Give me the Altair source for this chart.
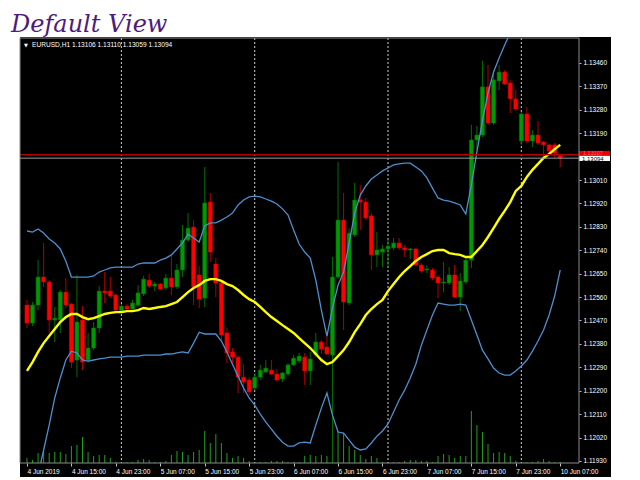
import json
import altair as alt
import pandas as pd

# ---------------- data ----------------
tick_idx = [0, 8, 16, 24, 32, 40, 48, 56, 64, 72, 80, 88, 96]
tick_labels = ["4 Jun 2019", "4 Jun 15:00", "4 Jun 23:00", "5 Jun 07:00", "5 Jun 15:00",
               "5 Jun 23:00", "6 Jun 07:00", "6 Jun 15:00", "6 Jun 23:00", "7 Jun 07:00",
               "7 Jun 15:00", "7 Jun 23:00", "10 Jun 07:00"]
day_sep_idx = [17, 41, 65, 89]
price_ticks = [1.11930, 1.12020, 1.12110, 1.12200, 1.12290, 1.12380, 1.12470, 1.12560,
               1.12650, 1.12740, 1.12830, 1.12920, 1.13010, 1.13190, 1.13280, 1.13370, 1.13460]

opens = [1.12529, 1.12460, 1.12529, 1.12637, 1.12618, 1.12472, 1.12472, 1.12579, 1.12533, 1.12318,
         1.12472, 1.12318, 1.12364, 1.12441, 1.12583, 1.12583, 1.12568, 1.12506, 1.12525, 1.12514,
         1.12529, 1.12572, 1.12625, 1.12602, 1.12610, 1.12595, 1.12633, 1.12599, 1.12664, 1.12779,
         1.12829, 1.12645, 1.12556, 1.12925, 1.12687, 1.12614, 1.12422, 1.12349, 1.12329, 1.12252,
         1.12241, 1.12210, 1.12252, 1.12272, 1.12279, 1.12264, 1.12245, 1.12264, 1.12299, 1.12314,
         1.12329, 1.12276, 1.12337, 1.12387, 1.12368, 1.12337, 1.12637, 1.12856, 1.12537, 1.12799,
         1.12933, 1.12925, 1.12872, 1.12722, 1.12733, 1.12745, 1.12749, 1.12768, 1.12749, 1.12741,
         1.12745, 1.12683, 1.12664, 1.12664, 1.12637, 1.12614, 1.12614, 1.12645, 1.12560, 1.12618,
         1.12702, 1.13164, 1.13183, 1.13368, 1.13229, 1.13391, 1.13425, 1.13383, 1.13322, 1.13160,
         1.13264, 1.13160, 1.13183, 1.13156, 1.13145, 1.13145, 1.13106]
highs = [1.12549, 1.12541, 1.12702, 1.12768, 1.12625, 1.12522, 1.12587, 1.12633, 1.12537, 1.12645,
         1.12525, 1.12422, 1.12464, 1.12602, 1.12656, 1.12637, 1.12572, 1.12533, 1.12533, 1.12549,
         1.12606, 1.12641, 1.12649, 1.12618, 1.12614, 1.12649, 1.12718, 1.12687, 1.12837, 1.12883,
         1.12856, 1.12679, 1.13060, 1.12960, 1.12710, 1.12622, 1.12441, 1.12364, 1.12337, 1.12302,
         1.12252, 1.12268, 1.12299, 1.12318, 1.12318, 1.12283, 1.12272, 1.12306, 1.12337, 1.12345,
         1.12345, 1.12349, 1.12422, 1.12395, 1.12425, 1.12714, 1.13079, 1.12960, 1.12825, 1.12999,
         1.12991, 1.12941, 1.12883, 1.12810, 1.12760, 1.12783, 1.12787, 1.12787, 1.12760, 1.12749,
         1.12749, 1.12691, 1.12683, 1.12672, 1.12645, 1.12695, 1.12675, 1.12683, 1.12652, 1.12714,
         1.13222, 1.13218, 1.13468, 1.13452, 1.13433, 1.13452, 1.13433, 1.13395, 1.13356, 1.13272,
         1.13291, 1.13202, 1.13237, 1.13160, 1.13149, 1.13152, 1.13110]
lows = [1.12441, 1.12449, 1.12510, 1.12599, 1.12422, 1.12387, 1.12422, 1.12518, 1.12287, 1.12252,
        1.12279, 1.12306, 1.12356, 1.12422, 1.12537, 1.12556, 1.12502, 1.12499, 1.12506, 1.12510,
        1.12522, 1.12564, 1.12595, 1.12583, 1.12587, 1.12587, 1.12568, 1.12591, 1.12637, 1.12772,
        1.12529, 1.12518, 1.12522, 1.12695, 1.12560, 1.12395, 1.12306, 1.12306, 1.12191, 1.12191,
        1.12183, 1.12202, 1.12241, 1.12268, 1.12260, 1.12233, 1.12233, 1.12256, 1.12295, 1.12306,
        1.12222, 1.12222, 1.12329, 1.12341, 1.12337, 1.11925, 1.12629, 1.12433, 1.12529, 1.12791,
        1.12818, 1.12856, 1.12664, 1.12675, 1.12675, 1.12675, 1.12741, 1.12741, 1.12714, 1.12706,
        1.12679, 1.12652, 1.12652, 1.12625, 1.12556, 1.12579, 1.12606, 1.12556, 1.12506, 1.12610,
        1.12672, 1.13125, 1.13175, 1.13222, 1.13222, 1.13356, 1.13375, 1.13268, 1.13275, 1.13145,
        1.13152, 1.13137, 1.13145, 1.13099, 1.13114, 1.13095, 1.13059]
closes = [1.12460, 1.12529, 1.12637, 1.12618, 1.12472, 1.12479, 1.12579, 1.12529, 1.12310, 1.12464,
          1.12310, 1.12364, 1.12441, 1.12583, 1.12576, 1.12564, 1.12510, 1.12525, 1.12514, 1.12537,
          1.12576, 1.12629, 1.12602, 1.12610, 1.12591, 1.12633, 1.12599, 1.12664, 1.12779, 1.12825,
          1.12599, 1.12552, 1.12922, 1.12733, 1.12614, 1.12414, 1.12345, 1.12329, 1.12252, 1.12233,
          1.12195, 1.12252, 1.12279, 1.12287, 1.12264, 1.12241, 1.12268, 1.12299, 1.12325, 1.12333,
          1.12276, 1.12322, 1.12387, 1.12360, 1.12341, 1.12637, 1.12856, 1.12541, 1.12806, 1.12933,
          1.12925, 1.12864, 1.12722, 1.12741, 1.12745, 1.12756, 1.12768, 1.12749, 1.12741, 1.12745,
          1.12683, 1.12660, 1.12668, 1.12633, 1.12614, 1.12618, 1.12645, 1.12560, 1.12622, 1.12702,
          1.13164, 1.13183, 1.13368, 1.13229, 1.13395, 1.13425, 1.13379, 1.13322, 1.13283, 1.13264,
          1.13160, 1.13183, 1.13152, 1.13145, 1.13122, 1.13114, 1.13094]
volumes = [500, 300, 1000, 1300, 1000, 1100, 1100, 900, 1700, 1800,
           2600, 1100, 700, 800, 800, 500, 100, 100, 100, 100,
           300, 400, 300, 100, 100, 200, 800, 1200, 1100, 800,
           1100, 1300, 3200, 2000, 2900, 2000, 1000, 500, 700, 500,
           200, 100, 100, 100, 200, 200, 200, 100, 100, 100,
           700, 800, 700, 800, 700, 2000, 3200, 3000, 1700, 1300,
           800, 400, 700, 500, 100, 100, 100, 100, 200, 300,
           300, 200, 200, 100, 700, 900, 800, 500, 700, 700,
           5200, 3800, 3100, 1900, 1000, 1100, 1000, 700, 200, 100,
           100, 100, 200, 400, 200, 100, 100]
ma = [1.12276, 1.12310, 1.12349, 1.12383, 1.12410, 1.12437, 1.12464, 1.12483, 1.12495, 1.12495,
      1.12483, 1.12475, 1.12479, 1.12487, 1.12495, 1.12499, 1.12502, 1.12502, 1.12506, 1.12506,
      1.12510, 1.12518, 1.12514, 1.12518, 1.12522, 1.12525, 1.12533, 1.12541, 1.12560, 1.12579,
      1.12595, 1.12606, 1.12622, 1.12629, 1.12629, 1.12622, 1.12610, 1.12602, 1.12587, 1.12568,
      1.12552, 1.12541, 1.12522, 1.12502, 1.12483, 1.12468, 1.12452, 1.12437, 1.12422, 1.12402,
      1.12383, 1.12364, 1.12341, 1.12318, 1.12302, 1.12310, 1.12333, 1.12356, 1.12387, 1.12425,
      1.12456, 1.12491, 1.12514, 1.12533, 1.12549, 1.12583, 1.12610, 1.12637, 1.12660, 1.12679,
      1.12699, 1.12714, 1.12725, 1.12737, 1.12741, 1.12741, 1.12729, 1.12725, 1.12722, 1.12714,
      1.12714, 1.12737, 1.12760, 1.12791, 1.12825, 1.12860, 1.12891, 1.12925, 1.12968, 1.12987,
      1.13022, 1.13049, 1.13072, 1.13095, 1.13110, 1.13129, 1.13145]
bb_upper = [1.12814, 1.12810, 1.12822, 1.12806, 1.12783, 1.12768, 1.12745, 1.12698, 1.12637, 1.12637,
            1.12637, 1.12637, 1.12641, 1.12656, 1.12664, 1.12672, 1.12675, 1.12675, 1.12675, 1.12675,
            1.12687, 1.12691, 1.12691, 1.12691, 1.12702, 1.12710, 1.12722, 1.12745, 1.12768, 1.12802,
            1.12787, 1.12772, 1.12833, 1.12845, 1.12845, 1.12856, 1.12868, 1.12883, 1.12914, 1.12933,
            1.12945, 1.12948, 1.12945, 1.12937, 1.12929, 1.12918, 1.12899, 1.12875, 1.12818, 1.12764,
            1.12733, 1.12710, 1.12625, 1.12510, 1.12410, 1.12518, 1.12606, 1.12656, 1.12768, 1.12883,
            1.12952, 1.12987, 1.13014, 1.13029, 1.13045, 1.13056, 1.13068, 1.13072, 1.13075, 1.13075,
            1.13060, 1.13045, 1.13018, 1.12979, 1.12941, 1.12933, 1.12929, 1.12922, 1.12914, 1.12879,
            1.12991, 1.13118, 1.13237, 1.13345, 1.13425, 1.13479, 1.13529, 1.13575, 1.13618, 1.13656,
            1.13687, 1.13710, 1.13725, 1.13737, 1.13745, 1.13748, 1.13748]
bb_lower = [1.11683, 1.11779, 1.11876, 1.11972, 1.12068, 1.12172, 1.12249, 1.12318, 1.12352, 1.12345,
            1.12318, 1.12314, 1.12318, 1.12322, 1.12325, 1.12329, 1.12329, 1.12329, 1.12333, 1.12333,
            1.12333, 1.12337, 1.12337, 1.12337, 1.12337, 1.12341, 1.12341, 1.12345, 1.12349, 1.12345,
            1.12383, 1.12425, 1.12418, 1.12418, 1.12418, 1.12391, 1.12349, 1.12302, 1.12256, 1.12210,
            1.12172, 1.12145, 1.12110, 1.12079, 1.12052, 1.12025, 1.12002, 1.11987, 1.11987, 1.11999,
            1.12002, 1.11999, 1.12068, 1.12133, 1.12191, 1.12106, 1.12041, 1.12037, 1.12010, 1.11983,
            1.11972, 1.11976, 1.11999, 1.12025, 1.12045, 1.12072, 1.12118, 1.12164, 1.12202, 1.12249,
            1.12302, 1.12375, 1.12433, 1.12491, 1.12537, 1.12533, 1.12529, 1.12529, 1.12533, 1.12529,
            1.12472, 1.12414, 1.12356, 1.12322, 1.12287, 1.12268, 1.12260, 1.12260, 1.12276, 1.12295,
            1.12318, 1.12352, 1.12391, 1.12433, 1.12491, 1.12564, 1.12664]
ask_price = 1.13107
bid_price = 1.13094

# ---------------- chart ----------------
n = len(opens)
df = pd.DataFrame({"i": list(range(n)), "o": opens, "h": highs, "l": lows, "c": closes,
                   "v": volumes, "ma": ma, "up": bb_upper, "dn": bb_lower})

FONT = "Liberation Sans"
label_expr = f"{json.dumps(tick_labels)}[indexof({json.dumps(tick_idx)}, datum.value)]"
x_axis = alt.Axis(values=tick_idx, labelExpr=label_expr, labelAlign="left", labelBaseline="top",
                  labelPadding=2, labelColor="#ffffff", labelFont=FONT, labelFontSize=6.5,
                  tickColor="#c0c0c0", tickSize=3, domain=False, grid=False, labelOverlap=False,
                  labelBound=False, labelFlush=False, zindex=2, title=None)
y_axis = alt.Axis(orient="right", values=price_ticks, format=".5f", labelAlign="left",
                  labelBaseline="middle", labelPadding=2, tickSize=2, tickColor="#c0c0c0",
                  labelColor="#ffffff", labelFont=FONT, labelFontSize=6.5, domain=False, grid=False,
                  labelOverlap=False, labelBound=False, labelFlush=False, zindex=2, title=None)

X = alt.X("i:Q", scale=alt.Scale(domain=[-0.354, 98.48], nice=False, zero=False), axis=x_axis, title=None)
YS = alt.Scale(domain=[1.11922, 1.13556], nice=False, zero=False)


def Y(field):
    return alt.Y(field, scale=YS, axis=y_axis, title=None)


bull = "datum.c >= datum.o"
one = pd.DataFrame({"k": [0]})

bg = alt.Chart(one).mark_rect(color="#000000").encode(
    x=alt.value(0), x2=alt.value(591), y=alt.value(-1), y2=alt.value(439))

vol = alt.Chart(df).mark_bar(size=1, color="#1fa01f").encode(
    x=X, y=alt.Y("v:Q", scale=alt.Scale(domain=[0, 42500], nice=False, zero=True), axis=None))

seps = alt.Chart(pd.DataFrame({"i": day_sep_idx})).mark_rule(
    color="#d0d0d0", strokeDash=[2, 2], strokeWidth=1).encode(x=X)

wicks = alt.Chart(df).mark_rule(strokeWidth=1, clip=True).encode(
    x=X, y=Y("l:Q"), y2="h:Q",
    color=alt.condition(bull, alt.value("#006e00"), alt.value("#b00000")))

bodies = alt.Chart(df).mark_bar(size=4, strokeWidth=0.6, clip=True).encode(
    x=X, y=Y("o:Q"), y2="c:Q",
    fill=alt.condition(bull, alt.value("#009a00"), alt.value("#ff0000")),
    stroke=alt.condition(bull, alt.value("#006e00"), alt.value("#d00000")))

upper = alt.Chart(df).mark_line(color="#4d8fd0", strokeWidth=1.3, clip=True).encode(x=X, y=Y("up:Q"))
lower = alt.Chart(df).mark_line(color="#4d8fd0", strokeWidth=1.3, clip=True).encode(x=X, y=Y("dn:Q"))
mavg = alt.Chart(df).mark_line(color="#ffff00", strokeWidth=2.4, clip=True).encode(x=X, y=Y("ma:Q"))

ask_df = pd.DataFrame({"p": [ask_price], "txt": [f"{ask_price:.5f}"]})
bid_df = pd.DataFrame({"p": [bid_price], "txt": [f"{bid_price:.5f}"]})

ask_line = alt.Chart(ask_df).mark_rule(color="#b00000", strokeWidth=1.6).encode(y=Y("p:Q"))
bid_line = alt.Chart(bid_df).mark_rule(color="#9a9a9a", strokeWidth=1).encode(y=Y("p:Q"))

ask_box = alt.Chart(ask_df).transform_calculate(
    t="datum.p + 0.00015", b="datum.p - 0.00004").mark_rect(
    color="#e80000").encode(x=alt.value(559), x2=alt.value(590), y=Y("t:Q"), y2="b:Q")
ask_txt = alt.Chart(ask_df).transform_calculate(m="datum.p + 0.00008").mark_text(
    font=FONT, fontSize=5.5, color="#ff6060", align="left", baseline="middle").encode(
    x=alt.value(563), y=Y("m:Q"), text="txt:N")
bid_box = alt.Chart(bid_df).transform_calculate(
    t="datum.p + 0.00009", b="datum.p - 0.00011").mark_rect(
    color="#ffffff").encode(x=alt.value(559), x2=alt.value(590), y=Y("t:Q"), y2="b:Q")
bid_txt = alt.Chart(bid_df).transform_calculate(m="datum.p - 0.00002").mark_text(
    font=FONT, fontSize=6, color="#000000", align="left", baseline="middle").encode(
    x=alt.value(562), y=Y("m:Q"), text="txt:N")

price_layer = alt.layer(seps, wicks, bodies, upper, lower, mavg, ask_line, bid_line,
                        ask_box, bid_box, ask_txt, bid_txt)

border = alt.Chart(one).mark_rect(fillOpacity=0, stroke="#8c8c8c", strokeWidth=1).encode(
    x=alt.value(0), x2=alt.value(559), y=alt.value(0), y2=alt.value(425))

header_txt = (f"EURUSD,H1  {opens[-1]:.5f} {highs[-1]:.5f} {lows[-1]:.5f} {closes[-1]:.5f}")
tri = alt.Chart(one).mark_text(text="▼", font="DejaVu Sans", fontSize=5, color="#ffffff",
                               align="left", baseline="middle").encode(x=alt.value(4), y=alt.value(7))
header = alt.Chart(one).mark_text(text=header_txt, font=FONT, fontSize=6.6, color="#ffffff",
                                  align="left", baseline="middle").encode(x=alt.value(12), y=alt.value(7))
title = alt.Chart(one).mark_text(text="Default View", font="DejaVu Serif", fontStyle="italic",
                                 fontSize=24, color="#4c1b7d", align="left",
                                 baseline="alphabetic").encode(x=alt.value(-9), y=alt.value(-6))

chart = alt.layer(bg, vol, price_layer, border, tri, header, title).resolve_scale(
    y="independent").properties(
    width=559, height=425,
    padding={"left": 12, "top": 30, "right": 32, "bottom": 14},
    autosize=alt.AutoSizeParams(type="none"),
    background="#ffffff").configure_view(stroke=None)

chart.save("out.html", embed_options={"renderer": "svg", "actions": False})
